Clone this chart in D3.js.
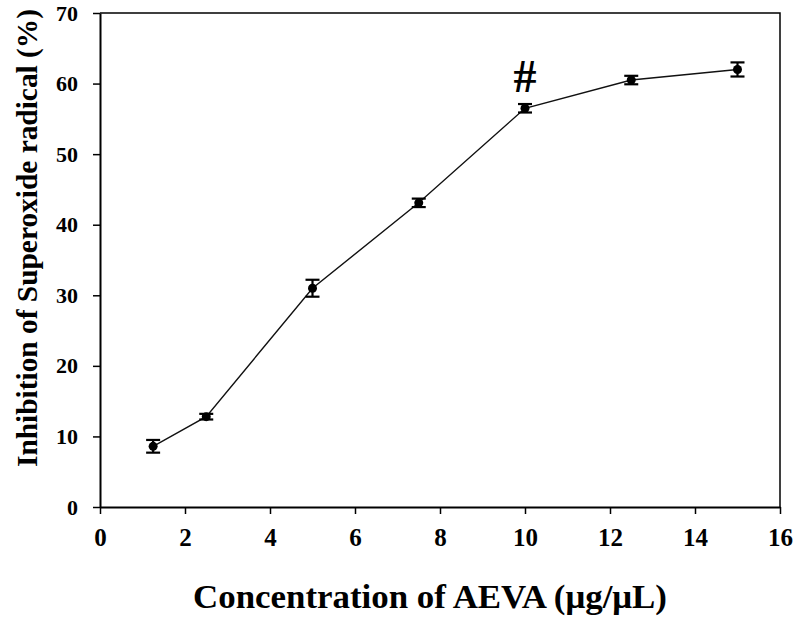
<!DOCTYPE html>
<html><head><meta charset="utf-8">
<script src="https://cdn.jsdelivr.net/npm/d3@7"></script>
<style>body{margin:0;background:#fff}svg{display:block}</style>
</head><body>
<svg id="c" width="796" height="617"></svg>
<script>
const concentrations = [1.25, 2.5, 5, 7.5, 10, 12.5, 15];
const inhibition = [8.6, 12.8, 31.0, 43.1, 56.5, 60.5, 62.0];
const errors = [0.9, 0.4, 1.2, 0.6, 0.6, 0.6, 1.0];
const xTicks = [0, 2, 4, 6, 8, 10, 12, 14, 16];
const yTicks = [0, 10, 20, 30, 40, 50, 60, 70];
const annotations = [{x: 10, label: "#"}];

const svg = d3.select("#c");
const L = 100, R = 780, T = 13, B = 507;
const x = d3.scaleLinear().domain([0, 16]).range([L, R]);
const y = d3.scaleLinear().domain([0, 70]).range([B, T]);
const font = "'Liberation Serif','Times New Roman',serif";

// frame top and right
svg.append("path").attr("d", `M${L},${T}H${R}V${B}`).attr("fill","none").attr("stroke","#000").attr("stroke-width",1.5);

const xa = svg.append("g").attr("transform", `translate(0,${B})`)
  .call(d3.axisBottom(x).tickValues(xTicks).tickSize(7).tickPadding(14).tickSizeOuter(0));
const ya = svg.append("g").attr("transform", `translate(${L},0)`)
  .call(d3.axisLeft(y).tickValues(yTicks).tickSize(7).tickPadding(15).tickSizeOuter(0));
[xa, ya].forEach(a => {
  a.select(".domain").attr("stroke","#000").attr("stroke-width",2);
  a.selectAll(".tick line").attr("stroke","#000").attr("stroke-width",1.5);
  a.selectAll("text").attr("font-family", font).attr("font-weight","bold").attr("fill","#000");
});
xa.selectAll("text").attr("font-size", 25);
ya.selectAll("text").attr("font-size", 22);

const data = concentrations.map((c, i) => ({c, v: inhibition[i], e: errors[i]}));
svg.append("path").datum(data)
  .attr("d", d3.line().x(d => x(d.c)).y(d => y(d.v)))
  .attr("fill","none").attr("stroke","#111").attr("stroke-width",1.4);

const eb = svg.append("g").attr("stroke","#000").attr("stroke-width",2.2);
data.forEach(d => {
  eb.append("line").attr("x1",x(d.c)).attr("x2",x(d.c)).attr("y1",y(d.v-d.e)).attr("y2",y(d.v+d.e));
  [d.v-d.e, d.v+d.e].forEach(v => eb.append("line").attr("x1",x(d.c)-7).attr("x2",x(d.c)+7).attr("y1",y(v)).attr("y2",y(v)));
});
svg.append("g").selectAll("circle").data(data).join("circle")
  .attr("cx", d => x(d.c)).attr("cy", d => y(d.v)).attr("r", 4.5).attr("fill","#000");

const byC = new Map(data.map(d => [d.c, d]));
svg.append("g").selectAll("text").data(annotations).join("text")
  .attr("x", d => x(d.x)).attr("y", d => y(byC.get(d.x).v) - 16)
  .attr("text-anchor","middle").attr("font-family", font).attr("font-weight","bold").attr("font-size", 46).attr("fill","#000")
  .text(d => d.label);

svg.append("text").attr("x", 430).attr("y", 608).attr("text-anchor","middle")
  .attr("font-family", font).attr("font-weight","bold").attr("font-size", 34).attr("fill","#000")
  .attr("textLength", 474).attr("lengthAdjust","spacingAndGlyphs")
  .text("Concentration of AEVA (μg/μL)");
svg.append("text").attr("transform", `translate(37,238) rotate(-90)`).attr("text-anchor","middle")
  .attr("font-family", font).attr("font-weight","bold").attr("font-size", 30).attr("fill","#000")
  .attr("textLength", 458).attr("lengthAdjust","spacingAndGlyphs")
  .text("Inhibition of Superoxide radical (%)");
</script>
</body></html>
